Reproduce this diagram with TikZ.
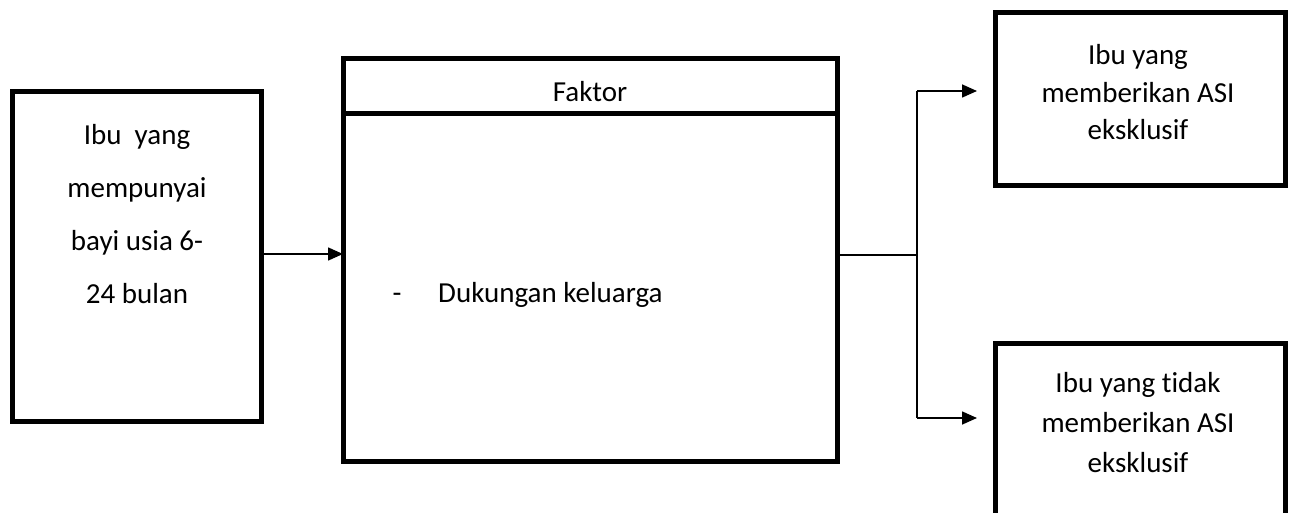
\documentclass[tikz,border=0pt]{standalone}
\usepackage{fontspec}
\setmainfont{Carlito}[Ligatures=NoCommon]
\usetikzlibrary{arrows.meta}
\begin{document}
\begin{tikzpicture}[x=1pt,y=-1pt,
  box/.style={draw=black,line width=5pt,rectangle,inner sep=0pt,outer sep=0pt},
  txt/.style={align=center,inner sep=0pt,font=\fontsize{29}{#1}\selectfont},
  txt/.default=40,
  arr/.style={line width=1.6pt,-{Triangle[length=15pt,width=13pt]}},
  conn/.style={line width=1.6pt}]
\useasboundingbox (0,0) rectangle (1292,513);
% left box
\node[box,minimum width=249pt,minimum height=329pt] (left) at (136.5,256.5) {};
\node[txt=53] (lefttxt) at (137,214) {Ibu\ \ yang\\mempunyai\\bayi usia 6-\\24 bulan};
% middle box
\node[box,minimum width=494pt,minimum height=402pt] (mid) at (590,260) {};
\coordinate (divl) at (343,114);
\coordinate (divr) at (837,114);
\draw[line width=5pt] (divl) -- (divr);
\node[txt] (faktor) at (590,92) {Faktor};
\node[txt,anchor=base] (dash) at (397,302) {-};
\node[txt,anchor=base west] (duk) at (438,302) {Dukungan keluarga};
% right boxes
\node[box,minimum width=290pt,minimum height=173pt] (tr) at (1140,99.5) {};
\node[txt=37.5] (trtxt) at (1138,92.5) {Ibu yang\\memberikan ASI\\eksklusif};
\node[box,minimum width=290pt,minimum height=200pt] (br) at (1140,443) {};
\node[txt=40] (brtxt) at (1138,423) {Ibu yang tidak\\memberikan ASI\\eksklusif};
% connectors
\draw[arr] (left.east |- 0,254) -- (mid.west |- 0,254);
\coordinate (j) at (917,255);
\coordinate (jt) at (917,91);
\coordinate (jb) at (917,418);
\coordinate (et) at (977,91);
\coordinate (eb) at (977,418);
\draw[conn] (mid.east |- j) -- (j);
\draw[conn] (jt) -- (jb);
\draw[arr] (jt) -- (et);
\draw[arr] (jb) -- (eb);
\end{tikzpicture}
\end{document}
